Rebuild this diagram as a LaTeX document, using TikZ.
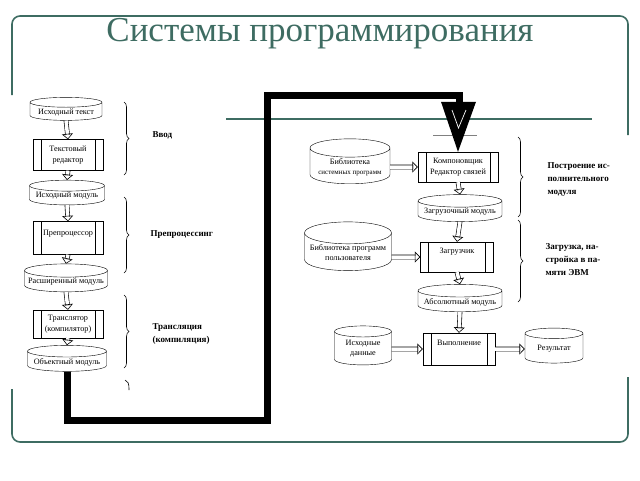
\documentclass[tikz,border=0pt]{standalone}
\usepackage{fontspec}
\setmainfont{Liberation Serif}
\usetikzlibrary{shapes.geometric,arrows.meta,decorations.pathreplacing}
\definecolor{slideteal}{RGB}{62,108,98}
\begin{document}
\begin{tikzpicture}
  [x=1pt, y=-1pt,
   store/.style={cylinder, shape border rotate=90, aspect=0.17, draw, fill=white,
     inner sep=1pt, align=center, font=\fontsize{8.2}{10}\selectfont},
   proc/.style={rectangle, draw, fill=white, inner sep=1pt, align=center,
     font=\fontsize{8.2}{10.5}\selectfont,
     path picture={
       \draw ([xshift=8]path picture bounding box.north west) -- ([xshift=8]path picture bounding box.south west);
       \draw ([xshift=-8]path picture bounding box.north east) -- ([xshift=-8]path picture bounding box.south east);}},
   hollow/.style={double=white, double distance=3.5pt, line width=0.6pt, shorten >=4.5pt,
     postaction={draw=white, line width=0.6pt, shorten >=0pt,
       -{Triangle[open, length=5.5pt, width=11pt, color=black, line width=0.6pt]}}},
   stage/.style={align=left, anchor=west, font=\bfseries\fontsize{9}{13}\selectfont},
   brace/.style={decorate, decoration={brace, amplitude=5pt}, line width=0.6pt},
   frame/.style={draw=slideteal, line width=1.6pt, rounded corners=8},
   pipe/.style={line width=7pt, line join=miter}]
  \useasboundingbox (0,0) rectangle (640,480);

  % slide frame
  \draw[frame] (12,95) -- (12,16) -- (628,16) -- (628,135);
  \draw[frame] (12,389) -- (12,442) -- (628,442) -- (628,377);
  \draw[draw=slideteal, line width=1.6pt] (226,119) -- (592,119);
  \node[text=slideteal, font=\fontsize{35}{35}\selectfont] (title) at (320,34) {Системы программирования};

  % left column
  \node[store, minimum width=72, minimum height=20] (src) at (66,112) {Исходный текст};
  \node[proc, minimum width=70, minimum height=31] (edit) at (68,155) {Текстовый\\редактор};
  \node[store, minimum width=75, minimum height=22] (srcmod) at (67,196) {Исходный модуль};
  \node[proc, minimum width=70, minimum height=33, text depth=10pt] (prep) at (68,238) {Препроцессор};
  \node[store, minimum width=83, minimum height=23] (ext) at (66,282) {Расширенный модуль};
  \node[proc, minimum width=70, minimum height=28] (trans) at (68,324) {Транслятор\\(компилятор)};
  \node[store, minimum width=79, minimum height=20] (obj) at (67,362) {Объектный модуль};

  \draw[hollow] (src.south) -- (edit.north);
  \draw[hollow] (edit.south) -- (srcmod.north);
  \draw[hollow] (srcmod.south) -- (prep.north);
  \draw[hollow] (prep.south) -- (ext.north);
  \draw[hollow] (ext.south) -- (trans.north);
  \draw[hollow] (trans.south) -- (obj.north);

  \draw[brace] (124,102) -- (124,175);
  \draw[brace] (124,197) -- (124,273);
  \draw[brace] (124,295) -- (124,368);
  \draw[line width=0.6pt] (125,380) .. controls (128,381) and (129,383) .. (129,390);
  \node[stage] (input) at (149,135) {Ввод};
  \node[stage] (preproc) at (147,235) {Препроцессинг};
  \node[stage] (compile) at (149,334) {Трансляция\\(компиляция)};

  % right column
  \node[proc, minimum width=80, minimum height=30] (link) at (458,167) {Компоновщик\\Редактор связей};
  \node[store, aspect=0.28, minimum width=80, minimum height=40] (syslib) at (350,167) {Библиотека\\{\fontsize{7}{9}\selectfont системных программ}};
  \node[store, minimum width=84, minimum height=23] (loadmod) at (460,212) {Загрузочный модуль};
  \node[proc, minimum width=73, minimum height=30, text depth=12pt] (loader) at (457,257) {Загрузчик};
  \node[store, aspect=0.28, minimum width=87, minimum height=40] (userlib) at (348,253) {Библиотека программ\\пользователя};
  \node[store, minimum width=84, minimum height=27] (absmod) at (460,302) {Абсолютный модуль};
  \node[proc, minimum width=72, minimum height=32, text depth=12pt] (run) at (459,349) {Выполнение};
  \node[store, aspect=0.3, minimum width=57, minimum height=39] (indata) at (363,349) {Исходные\\данные};
  \node[store, aspect=0.3, minimum width=58, minimum height=35] (result) at (554,349) {Результат};

  \draw[hollow] (syslib.east) -- (link.west);
  \draw[hollow] (link.south) -- (loadmod.north);
  \draw[hollow] (loadmod.south) -- (loader.north);
  \draw[hollow] ([yshift=-4pt]userlib.east) -- (loader.west);
  \draw[hollow] (loader.south) -- (absmod.north);
  \draw[hollow] (absmod.south) -- (run.north);
  \draw[hollow] (indata.east) -- (run.west);
  \draw[hollow] (run.east) -- (result.west);

  \draw[brace] (518,137) -- (518,217);
  \draw[brace] (518,220) -- (518,302);
  \node[stage] (build) at (544,180) {Построение ис-\\полнительного\\модуля};
  \node[stage] (place) at (542,260) {Загрузка, на-\\стройка в па-\\мяти ЭВМ};

  % object module to linker
  \coordinate (bend1) at (267,420);
  \coordinate (bend2) at (267,95);
  \coordinate (tiptop) at (459,103);
  \draw[pipe] (obj.south) |- (bend1) -- (bend2) -| (tiptop);
  \draw[line width=0.5pt, gray] (433,135) -- (477,135);
  \fill (link.north) -- ++(-17,-50) -- ++(35,0) -- cycle;
  \draw[white, line width=0.7pt] (452,110) -- (458.5,128) -- (466,110);
\end{tikzpicture}
\end{document}
